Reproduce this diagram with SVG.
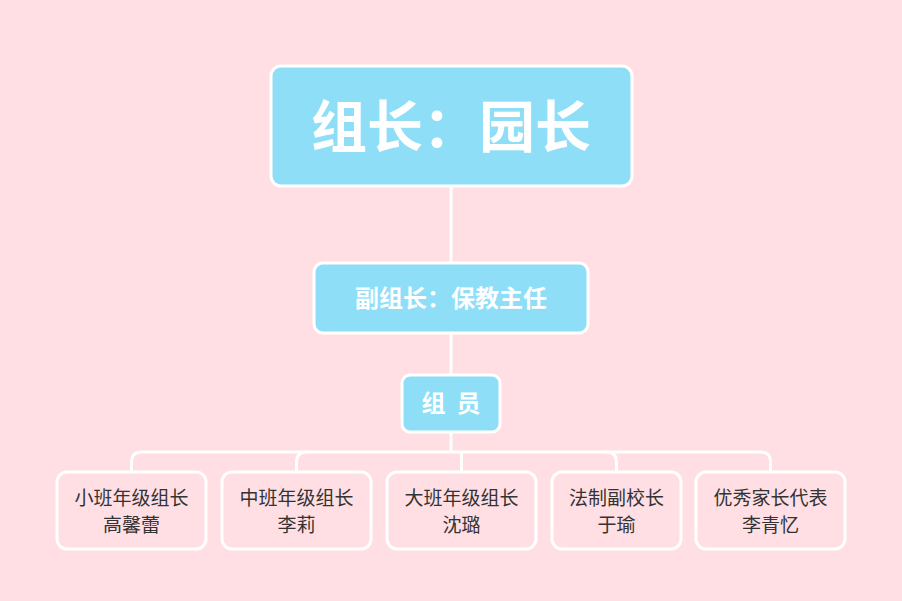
<svg xmlns="http://www.w3.org/2000/svg" width="902" height="601" viewBox="0 0 902 601">
<style>
.b{fill:#8fdef8;stroke:#fff;stroke-width:3}
.l{fill:none;stroke:#fff;stroke-width:3}
.t{font-family:"Noto Sans CJK SC",sans-serif;text-anchor:middle}
.w{fill:#fff;font-weight:bold}
.k{fill:#333;font-size:19px}
</style>
<rect width="902" height="601" fill="#ffdfe3"/>
<g id="connectors" class="l">
<path d="M451 186V263M451 333V375M451 432V452"/>
<path d="M131.5 472V462Q131.5 452 141.5 452H760.5Q770.5 452 770.5 462V472"/>
<path d="M296.5 472V462Q296.5 452 306.5 452M461.5 472V452M616.5 472V462Q616.5 452 606.5 452"/>
</g>
<g id="root"><rect class="b" x="271" y="66" width="361" height="120" rx="10"/><text class="t w" x="451" y="147" font-size="56">组长：园长</text></g>
<g id="vice"><rect class="b" x="314" y="263" width="274" height="70" rx="9"/><text class="t w" x="451" y="307" font-size="24">副组长：保教主任</text></g>
<g id="members"><rect class="b" x="402" y="375" width="98" height="57" rx="8"/><text class="t w" x="451" y="412" font-size="24" xml:space="preserve">组  员</text></g>
<g id="n1"><rect class="l" x="57" y="472" width="149" height="77" rx="10"/><text class="t k" x="131.5" y="505">小班年级组长</text><text class="t k" x="131.5" y="532">高馨蕾</text></g>
<g id="n2"><rect class="l" x="222" y="472" width="149" height="77" rx="10"/><text class="t k" x="296.5" y="505">中班年级组长</text><text class="t k" x="296.5" y="532">李莉</text></g>
<g id="n3"><rect class="l" x="387" y="472" width="149" height="77" rx="10"/><text class="t k" x="461.5" y="505">大班年级组长</text><text class="t k" x="461.5" y="532">沈璐</text></g>
<g id="n4"><rect class="l" x="552" y="472" width="129" height="77" rx="10"/><text class="t k" x="616.5" y="505">法制副校长</text><text class="t k" x="616.5" y="532">于瑜</text></g>
<g id="n5"><rect class="l" x="696" y="472" width="149" height="77" rx="10"/><text class="t k" x="770.5" y="505">优秀家长代表</text><text class="t k" x="770.5" y="532">李青忆</text></g>
</svg>
